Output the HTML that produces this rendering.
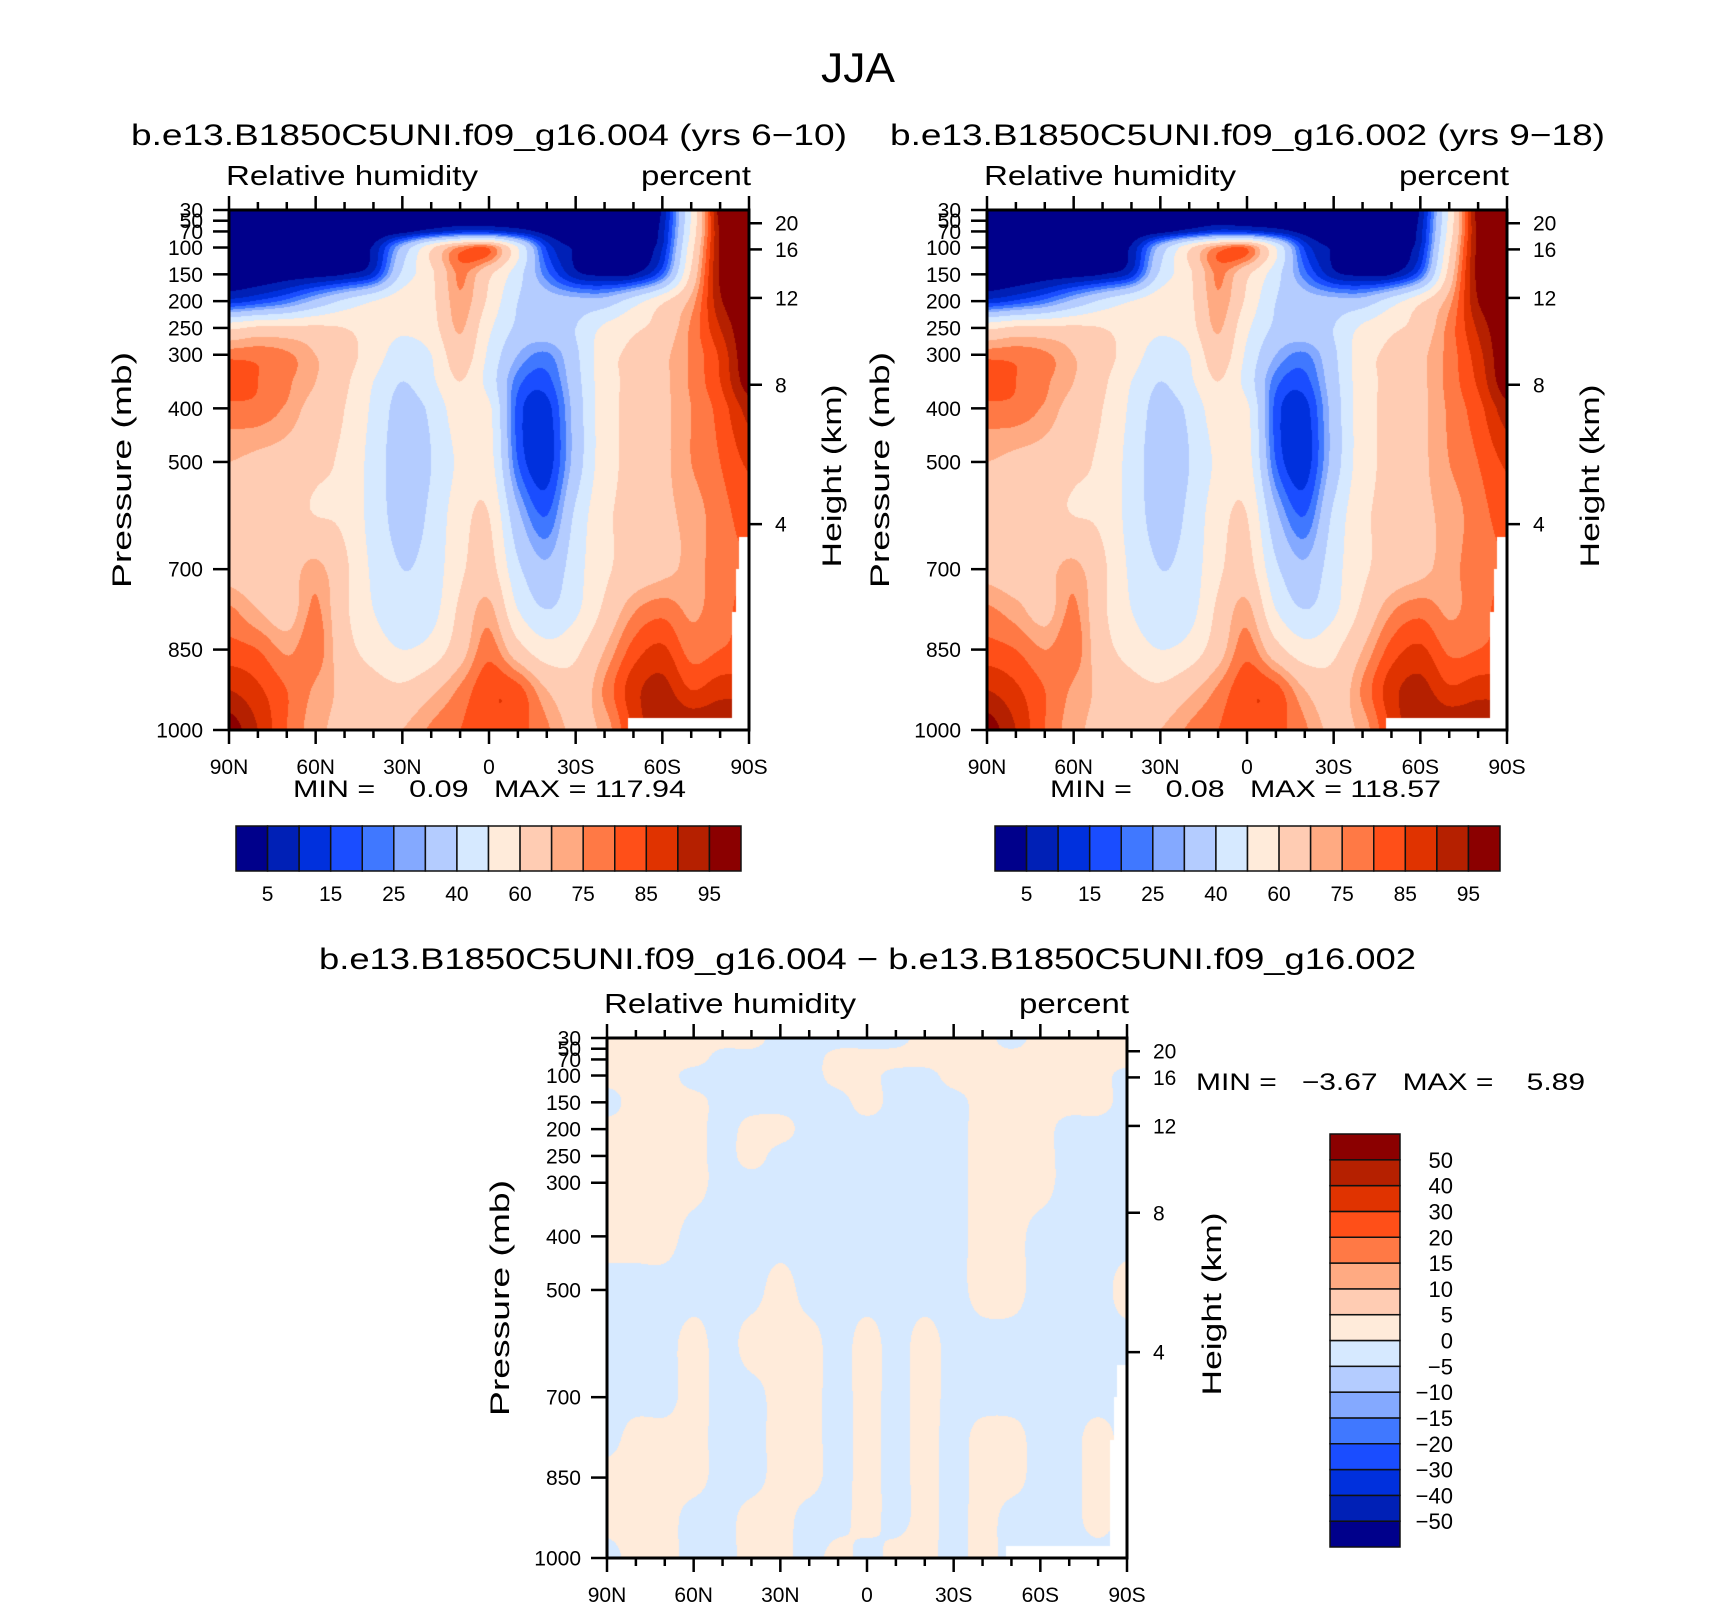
<!DOCTYPE html>
<html><head><meta charset="utf-8">
<style>
html,body{margin:0;padding:0;background:#fff;}
#wrap{position:relative;width:1710px;height:1606px;overflow:hidden;background:#fff;font-family:"Liberation Sans",sans-serif;}
canvas{position:absolute;}
svg{position:absolute;left:0;top:0;}
text{font-family:"Liberation Sans",sans-serif;fill:#000;}
</style></head>
<body>
<div id="wrap">
<canvas id="c1" width="520" height="520" style="left:229px;top:210px"></canvas>
<canvas id="c2" width="520" height="520" style="left:987px;top:210px"></canvas>
<canvas id="c3" width="520" height="520" style="left:607px;top:1038px"></canvas>
<svg id="ov" width="1710" height="1606">
<text x="858" y="82" font-size="42" text-anchor="middle" textLength="74" lengthAdjust="spacingAndGlyphs">JJA</text>
<text x="131" y="145" font-size="30" textLength="716" lengthAdjust="spacingAndGlyphs">b.e13.B1850C5UNI.f09_g16.004 (yrs 6−10)</text>
<text x="890" y="145" font-size="30" textLength="715" lengthAdjust="spacingAndGlyphs">b.e13.B1850C5UNI.f09_g16.002 (yrs 9−18)</text>
<text x="319" y="969" font-size="30" textLength="1097" lengthAdjust="spacingAndGlyphs">b.e13.B1850C5UNI.f09_g16.004 − b.e13.B1850C5UNI.f09_g16.002</text>
<text x="1196" y="1090" font-size="24" textLength="389" lengthAdjust="spacingAndGlyphs" xml:space="preserve">MIN =   −3.67   MAX =    5.89</text>
<text x="293" y="797" font-size="24" textLength="393" lengthAdjust="spacingAndGlyphs" xml:space="preserve">MIN =    0.09   MAX = 117.94</text>
<text x="1050" y="797" font-size="24" textLength="391" lengthAdjust="spacingAndGlyphs" xml:space="preserve">MIN =    0.08   MAX = 118.57</text>
</svg>
</div>
<script>
// ---- data ----
var lats = [90,80,70,60,50,40,30,20,10,0,-10,-20,-30,-40,-50,-60,-70,-80,-90];
var pLevels = [30,70,100,150,200,250,300,350,400,500,600,700,775,850,925,1000];
var rh004 = [
 [0,0,0,0,0,0,0,0,0,0,0,0,0,0,0,6,50,98,100],
 [1,1,1,1,1,1,3,8,12,12,8,3,1,1,1,8,52,96,100],
 [1,1,1,2,3,6,32,58,76,79,50,14,4,2,2,10,56,96,100],
 [1,1,2,3,5,12,42,58,76,62,44,22,7,4,5,20,62,96,100],
 [12,16,22,32,42,50,56,58,74,58,40,35,33,34,45,58,72,94,100],
 [58,62,62,62,60,55,52,56,71,52,38,36,40,52,58,64,76,90,100],
 [78,78,76,70,64,55,45,50,66,48,30,24,38,56,62,68,76,86,100],
 [84,80,76,70,62,50,40,48,60,46,22,18,36,56,62,68,76,85,98],
 [78,78,74,66,60,48,36,42,56,52,18,13,34,56,62,68,75,82,92],
 [70,68,66,62,58,46,34,40,52,54,20,12,34,56,62,68,75,80,86],
 [64,64,62,60,58,46,36,42,56,60,32,20,42,58,62,68,72,78,82],
 [66,64,66,72,62,48,40,44,58,64,42,32,46,58,64,68,72,78,80],
 [76,70,66,76,62,50,42,46,62,72,50,40,48,62,74,78,74,78,82],
 [82,80,74,78,64,56,50,54,66,78,64,54,58,70,82,86,78,80,82],
 [90,86,80,74,68,64,62,68,76,84,82,70,64,76,88,92,85,88,88],
 [98,90,80,72,68,68,70,76,80,84,82,76,68,72,86,95,95,95,95]
];
var rh002 = [
 [0,0,0,0,0,0,0,0,0,0,0,0,0,0,0,6,52,98,100],
 [1,1,1,1,1,1,3,8,13,12,8,3,1,1,1,8,54,97,100],
 [1,1,1,2,3,6,33,58,76,79,50,14,4,2,2,10,58,97,100],
 [1,1,2,3,5,12,42,58,76,62,44,22,7,4,5,20,64,97,100],
 [12,16,22,32,42,50,56,58,74,58,40,35,33,34,45,58,73,95,100],
 [58,62,62,62,60,55,52,56,71,52,38,36,40,52,58,64,77,91,100],
 [78,78,76,70,64,55,45,50,66,48,30,24,38,56,62,68,77,88,100],
 [84,80,76,70,62,50,40,48,60,46,22,18,36,56,62,68,77,86,99],
 [78,78,74,66,60,48,36,42,56,52,18,13,34,56,62,68,76,83,93],
 [70,68,66,62,58,46,34,40,52,54,20,12,34,56,62,68,75,80,86],
 [64,65,62,60,58,46,36,42,56,60,32,20,42,58,62,68,72,78,82],
 [67,65,67,72,62,48,40,44,58,64,42,32,46,58,64,68,73,78,80],
 [76,72,67,76,62,50,42,46,62,72,50,40,48,62,74,78,74,78,82],
 [82,80,75,78,64,56,50,54,66,78,64,54,58,70,82,86,79,80,82],
 [90,86,80,74,68,64,62,68,76,84,82,70,64,76,88,92,86,88,88],
 [98,90,80,72,68,68,70,76,80,84,82,76,68,72,86,95,95,95,95]
];
var pLevelsDiff = [30,70,100,150,200,250,300,400,500,600,700,775,850,925,1000];
var rhDiff = [
 [1,1,1,1,1,1,-1,-1,-1,-1,-1,1,1,1,-1,1,1,1,1],
 [1,1,1,1,-1,-1,-1,-1,1,1,1,1,1,1,1,1,1,1,1],
 [1,1,1,-1,-1,-1,-1,-1,1,1,-1,-1,1,1,1,1,1,1,-1],
 [-1,1,1,1,-1,-1,-1,-1,-1,1,-1,-1,-1,1,1,1,1,1,-1],
 [1,1,1,1,-1,1,1,-1,-1,-1,-1,-1,-1,1,1,1,-1,-1,-1],
 [1,1,1,1,-1,1,-1,-1,-1,-1,-1,-1,-1,1,1,1,-1,-1,-1],
 [1,1,1,1,-1,-1,-1,-1,-1,-1,-1,-1,-1,1,1,1,-1,-1,-1],
 [1,1,1,-1,-1,-1,-1,-1,-1,-1,-1,-1,-1,1,1,-1,-1,-1,-1],
 [-1,-1,-1,-1,-1,-1,1,-1,-1,-1,-1,-1,-1,1,1,-1,-1,-1,1],
 [-1,-1,-1,1,-1,1,1,1,-1,1,-1,1,-1,-1,-1,-1,-1,-1,-1],
 [-1,-1,-1,1,-1,-1,1,1,-1,1,-1,1,-1,-1,-1,-1,-1,-1,-1],
 [-1,1,1,1,-1,-1,1,1,-1,1,-1,1,-1,1,1,-1,-1,1,-1],
 [1,1,1,1,-1,-1,1,1,-1,1,-1,1,-1,1,1,-1,-1,1,-1],
 [1,1,1,-1,-1,1,1,-1,-1,1,-1,1,-1,1,-1,-1,-1,1,-1],
 [-1,1,1,-1,-1,1,1,-1,1,-1,1,1,-1,1,-1,-1,-1,-1,-1]
];
// missing-data regions: [latFrom, latTo, pFrom]
var missing = [[-48,-90,978],[-84,-90,780],[-85.5,-90,700],[-86.5,-90,640]];
var rhLevels = [5,10,15,20,25,30,40,50,60,70,75,80,85,90,95];
var rhLabels = ['5','15','25','40','60','75','85','95'];
var diffLevels = [-50,-40,-30,-20,-15,-10,-5,0,5,10,15,20,30,40,50];
var colors = ['#00008b','#0020b6','#0030dd','#1a4dff','#4078ff','#84a9ff','#b4ccff','#d6e9ff','#ffebda','#ffccb3','#ffaa82','#ff7945','#ff4f18','#e03300','#b52000','#8b0000'];
var pTicks = [30,50,70,100,150,200,250,300,400,500,700,850,1000];
var latTicks = [90,60,30,0,-30,-60,-90];
var latTickLabels = ['90N','60N','30N','0','30S','60S','90S'];
var hTicks = [20,16,12,8,4];
var hTickP = [54.7,103.5,194,356,616];

// ---- rendering ----
function hexRGB(h){return [parseInt(h.substr(1,2),16),parseInt(h.substr(3,2),16),parseInt(h.substr(5,2),16)];}
var rgb = colors.map(hexRGB);
function cr(p0,p1,p2,p3,t){
  return p1+0.5*t*(p2-p0+t*(2*p0-5*p1+4*p2-p3+t*(3*(p1-p2)+p3-p0)));
}
function interp(grid, P, lat, p){
  var nx=lats.length, ny=P.length;
  var fx=(90-lat)/10; var i=Math.min(Math.floor(fx),nx-2); var tx=fx-i;
  var j=0; while(j<ny-2 && p>P[j+1]) j++;
  var ty=(p-P[j])/(P[j+1]-P[j]); ty=Math.max(0,Math.min(1,ty));
  function g(r,c){r=Math.max(0,Math.min(ny-1,r));c=Math.max(0,Math.min(nx-1,c));return grid[r][c];}
  var rows=[];
  for(var k=-1;k<=2;k++){rows.push(cr(g(j+k,i-1),g(j+k,i),g(j+k,i+1),g(j+k,i+2),tx));}
  return cr(rows[0],rows[1],rows[2],rows[3],ty);
}
function isMissing(lat,p){
  for(var k=0;k<missing.length;k++){var m=missing[k]; if(lat<=m[0]&&lat>=m[1]&&p>=m[2]) return true;}
  return false;
}
function drawField(id, grid, P, levels){
  var cv=document.getElementById(id); var ctx=cv.getContext('2d');
  var W=cv.width,H=cv.height; var img=ctx.createImageData(W,H);
  for(var y=0;y<H;y++){
    var p=30+970*(y+0.5)/H;
    for(var x=0;x<W;x++){
      var lat=90-180*(x+0.5)/W; var o=(y*W+x)*4;
      if(isMissing(lat,p)){img.data[o]=255;img.data[o+1]=255;img.data[o+2]=255;img.data[o+3]=255;continue;}
      var v=interp(grid,P,lat,p); var ci=0; while(ci<levels.length && v>=levels[ci]) ci++;
      var c=rgb[ci]; img.data[o]=c[0];img.data[o+1]=c[1];img.data[o+2]=c[2];img.data[o+3]=255;
    }
  }
  ctx.putImageData(img,0,0);
}
drawField('c1', rh004, pLevels, rhLevels);
drawField('c2', rh002, pLevels, rhLevels);
drawField('c3', rhDiff, pLevelsDiff, diffLevels);

var NS='http://www.w3.org/2000/svg'; var svg=document.getElementById('ov');
function mk(tag, attrs, parent){var e=document.createElementNS(NS,tag); for(var k in attrs) e.setAttribute(k,attrs[k]); (parent||svg).appendChild(e); return e;}

function panelAxes(x0,y0,w,h,prefix,texts){
  var g=mk('g',{});
  
  
  var xs=function(lat){return x0+(90-lat)/180*w;};
  var ys=function(p){return y0+(p-30)/970*h;};
  for(var lat=90;lat>=-90;lat-=10){
    var major = (lat%30===0); var L = major?14:8;
    var t1=mk('line',{x1:xs(lat),x2:xs(lat),y1:y0,y2:y0-L,stroke:'#000','stroke-width':2.5},g);
    
    
    var t2=mk('line',{x1:xs(lat),x2:xs(lat),y1:y0+h,y2:y0+h+L,stroke:'#000','stroke-width':2.5},g);
    
    
  }
  latTicks.forEach(function(lat,i){
    var t=mk('text',{x:xs(lat),y:y0+h+44,'font-size':21,'text-anchor':'middle'},g);
    t.textContent=latTickLabels[i];
    
    
  });
  pTicks.forEach(function(p){
    var l=mk('line',{x1:x0-16,x2:x0,y1:ys(p),y2:ys(p),stroke:'#000','stroke-width':2.5},g);
    
    
    var t=mk('text',{x:x0-26,y:ys(p)+7.5,'font-size':21,'text-anchor':'end'},g);
    t.textContent=String(p);
    
    
  });
  hTicks.forEach(function(hk,i){
    var yy=ys(hTickP[i]);
    var l=mk('line',{x1:x0+w,x2:x0+w+13,y1:yy,y2:yy,stroke:'#000','stroke-width':2.5},g);
    
    
    var t=mk('text',{x:x0+w+26,y:yy+7.5,'font-size':21},g);
    t.textContent=String(hk);
    
    
  });
  var fr=mk('rect',{x:x0,y:y0,width:w,height:h,fill:'none',stroke:'#000','stroke-width':3},g);
  
  
  var lt=mk('text',{x:x0-3,y:y0-25,'font-size':28,textLength:252,lengthAdjust:'spacingAndGlyphs'},g);
  lt.textContent='Relative humidity';
  
  
  var rt=mk('text',{x:x0+w+2,y:y0-25,'font-size':28,'text-anchor':'end',textLength:110,lengthAdjust:'spacingAndGlyphs'},g);
  rt.textContent='percent';
  
  
  var cy=y0+h/2+(texts.dy||0);
  var pl=mk('text',{x:0,y:0,'font-size':27,'text-anchor':'middle',textLength:236,lengthAdjust:'spacingAndGlyphs',transform:'translate('+(texts.px+9)+','+cy+') rotate(-90)'},g);
  pl.textContent='Pressure (mb)';
  
  
  var hl=mk('text',{x:0,y:0,'font-size':27,'text-anchor':'middle',textLength:183,lengthAdjust:'spacingAndGlyphs',transform:'translate('+(texts.hx+9)+','+(cy+6)+') rotate(-90)'},g);
  hl.textContent='Height (km)';
  
  
}
panelAxes(229,210,520,520,'panel1',{px:122,hx:832});
panelAxes(987,210,520,520,'panel2',{px:880,hx:1590});
panelAxes(607,1038,520,520,'panel3',{px:500,hx:1212});

function hColorbar(x0,y0,w,h,name){
  var g=mk('g',{});
  
  
  var bw=w/colors.length;
  colors.forEach(function(c,i){
    var r=mk('rect',{x:x0+i*bw,y:y0,width:bw,height:h,fill:c,stroke:'#111','stroke-width':1.5},g);
    
    
  });
  rhLabels.forEach(function(lb,k){
    var t=mk('text',{x:x0+(2*k+1)*bw,y:y0+h+30,'font-size':21,'text-anchor':'middle'},g);
    t.textContent=lb;
    
    
  });
}
hColorbar(236,826,505,45,'colorbar-panel1');
hColorbar(995,826,505,45,'colorbar-panel2');

(function(){
  var x0=1330,y0=1134,w=70,h=413; var bh=h/colors.length;
  var g=mk('g',{});
  
  
  colors.forEach(function(c,i){
    var r=mk('rect',{x:x0,y:y0+h-(i+1)*bh,width:w,height:bh,fill:c,stroke:'#111','stroke-width':1.5},g);
    
    
  });
  diffLevels.forEach(function(v,i){
    var t=mk('text',{x:1453,y:y0+h-(i+1)*bh+8,'font-size':22,'text-anchor':'end'},g);
    t.textContent=(v<0?'−'+(-v):String(v));
    
    
  });
})();
</script>
</body></html>
